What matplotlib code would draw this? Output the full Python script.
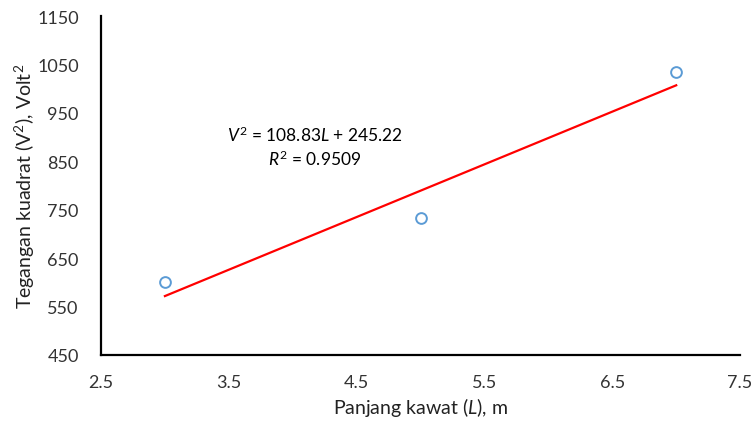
import matplotlib
matplotlib.use("Agg")
import matplotlib.pyplot as plt
import numpy as np

# data
panjang = [3, 5, 7]
tegangan_kuadrat = [600, 733, 1035]
slope = 108.83
intercept = 245.22
r2 = 0.9509

plt.rcParams['font.family'] = ['Lato', 'DejaVu Sans']
plt.rcParams['mathtext.fontset'] = 'custom'
plt.rcParams['mathtext.rm'] = 'Lato'
plt.rcParams['mathtext.it'] = 'Lato:italic'

fig = plt.figure(figsize=(7.56, 4.27), dpi=100)
ax = fig.add_axes([0.1336, 0.1663, 0.979 - 0.1336, 0.960 - 0.1663])

ax.scatter(panjang, tegangan_kuadrat, s=60, facecolors='white', edgecolors='#5B9BD5',
           linewidths=1.4, zorder=3)
xl = np.array([min(panjang), max(panjang)])
ax.plot(xl, slope * xl + intercept, color='red', lw=1.6, zorder=2)

ax.text(4.17, 906, f"$V^2$ = {slope}$L$ + {intercept}", ha='center', va='center', fontsize=12.5)
ax.text(4.17, 856, f"$R^2$ = {r2}", ha='center', va='center', fontsize=12.5)

ax.set_xlim(2.5, 7.5)
ax.set_ylim(450, 1150)
ax.set_xticks(np.arange(2.5, 7.6, 1.0))
ax.set_yticks(np.arange(450, 1151, 100))
ax.tick_params(axis='y', length=0, labelsize=13, colors='#333333', pad=16)
ax.tick_params(axis='x', length=0, labelsize=13, colors='#333333', pad=14)
for s in ['top', 'right']:
    ax.spines[s].set_visible(False)
for s in ['left', 'bottom']:
    ax.spines[s].set_linewidth(1.6)
    ax.spines[s].set_color('black')

ax.set_xlabel("Panjang kawat ($L$), m", fontsize=14, color='#222222', labelpad=3)
ax.set_ylabel("Tegangan kuadrat (V$^2$), Volt$^2$", fontsize=14, color='#222222', labelpad=0)

fig.savefig("out.png", dpi=100)
